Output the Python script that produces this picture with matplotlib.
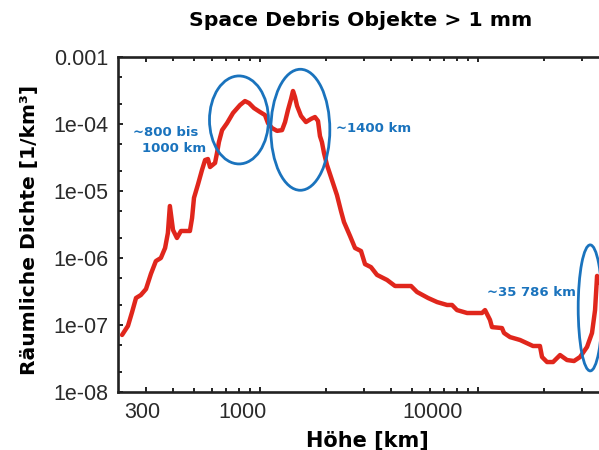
import numpy as np
import matplotlib
matplotlib.use("Agg")
import matplotlib.pyplot as plt
from matplotlib.patches import Ellipse
from matplotlib.transforms import ScaledTranslation
from matplotlib.ticker import LogLocator, NullFormatter, FixedLocator, FixedFormatter

# ---- data ----
altitude_km = [233, 248, 259, 270, 284, 300, 316, 333, 351, 367, 378, 386, 399, 416, 434,
               477, 488, 498, 520, 542, 560, 577, 590, 622, 635, 648, 670, 706, 752, 810,
               853, 891, 938, 1000, 1054, 1088, 1135, 1197, 1262, 1303, 1344, 1388, 1417,
               1447, 1479, 1542, 1625, 1713, 1787, 1845, 1884, 1923, 1966, 2029, 2138, 2254,
               2353, 2428, 2588, 2728, 2906, 3032, 3229, 3440, 3826, 4163, 4930, 5250, 5900,
               6490, 7210, 7600, 8010, 8910, 10430, 10770, 11350, 11590, 12880, 13160, 14020,
               15590, 17870, 19230, 19660, 20730, 22090, 23780, 25600, 27560, 29370, 31620,
               33330, 34420, 35160, 35930]
density = [7.1e-8, 9.7e-8, 1.56e-7, 2.53e-7, 2.8e-7, 3.44e-7, 5.8e-7, 9.0e-7, 1.0e-6, 1.41e-6,
           2.36e-6, 5.97e-6, 2.62e-6, 1.99e-6, 2.53e-6, 2.53e-6, 3.95e-6, 7.9e-6, 1.27e-5,
           2.06e-5, 2.9e-5, 3.0e-5, 2.28e-5, 2.62e-5, 3.69e-5, 5.38e-5, 8.1e-5, 1.03e-4,
           1.46e-4, 1.92e-4, 2.2e-4, 2.05e-4, 1.73e-4, 1.51e-4, 1.36e-4, 1.03e-4, 8.7e-5,
           7.9e-5, 8.1e-5, 1.07e-4, 1.62e-4, 2.36e-4, 3.11e-4, 2.53e-4, 1.86e-4, 1.32e-4,
           1.07e-4, 1.19e-4, 1.27e-4, 1.11e-4, 6.6e-5, 5.38e-5, 3.69e-5, 2.44e-5, 1.46e-5,
           8.7e-6, 5.0e-6, 3.44e-6, 2.13e-6, 1.41e-6, 1.27e-6, 8.1e-7, 7.3e-7, 5.6e-7, 4.7e-7,
           3.82e-7, 3.82e-7, 3.11e-7, 2.53e-7, 2.2e-7, 1.99e-7, 1.99e-7, 1.67e-7, 1.51e-7,
           1.51e-7, 1.67e-7, 1.19e-7, 9.3e-8, 9.0e-8, 7.6e-8, 6.6e-8, 5.97e-8, 4.86e-8,
           4.86e-8, 3.33e-8, 2.8e-8, 2.8e-8, 3.56e-8, 3.0e-8, 2.9e-8, 3.33e-8, 4.7e-8, 7.6e-8,
           1.67e-7, 5.4e-7, 4.3e-7]

x_tick_values = [300, 1000, 10000]
x_tick_labels = ["300", "1000", "10000"]
y_tick_values = [1e-8, 1e-7, 1e-6, 1e-5, 1e-4, 1e-3]
y_tick_labels = ["1e-08", "1e-07", "1e-06", "1e-05", "1e-04", "0.001"]

title = "Space Debris Objekte > 1 mm"
xlabel = "Höhe [km]"
ylabel = "Räumliche Dichte [1/km³]"

# annotations: (altitude, density, ellipse width in, height in)
ellipses = [(801, 1.15e-4, 0.59, 0.88),
            (1531, 8.2e-5, 0.59, 1.21),
            (32700, 1.8e-7, 0.24, 1.26)]

RED = "#e0261c"
BLUE = "#1a73bd"

fig = plt.figure(figsize=(5.99, 4.5), dpi=100)
ax = fig.add_axes([118 / 599, 58 / 450, 483 / 599, 335 / 450])

ax.plot(altitude_km, density, color=RED, lw=3.2, solid_joinstyle="round",
        solid_capstyle="round", zorder=3)

ax.set_xscale("log")
ax.set_yscale("log")
ax.set_xlim(223.2, 36650)
ax.set_ylim(1e-8, 1e-3)

# ticks
ax.xaxis.set_major_locator(FixedLocator(x_tick_values))
ax.xaxis.set_major_formatter(FixedFormatter(x_tick_labels))
ax.xaxis.set_minor_locator(LogLocator(base=10, subs=np.arange(2, 10), numticks=20))
ax.xaxis.set_minor_formatter(NullFormatter())
ax.yaxis.set_major_locator(FixedLocator(y_tick_values))
ax.yaxis.set_major_formatter(FixedFormatter(y_tick_labels))
ax.yaxis.set_minor_locator(LogLocator(base=10, subs=(2, 5), numticks=20))
ax.yaxis.set_minor_formatter(NullFormatter())

ax.tick_params(which="both", direction="in", top=True, right=False, width=1.4,
               color="#222222")
ax.tick_params(which="major", length=3.5)
ax.tick_params(which="minor", length=3.0)
ax.tick_params(axis="both", which="major", labelsize=15.5, labelcolor="#2a2a2a", pad=7)
for lab in ax.get_xticklabels() + ax.get_yticklabels():
    lab.set_fontfamily("Liberation Sans")

# label offsets as in reference
for lab, dx in zip(ax.get_xticklabels(), [-0.04, -0.17, -0.45]):
    lab.set_transform(lab.get_transform() + ScaledTranslation(dx, 0, fig.dpi_scale_trans))

for s in ["left", "bottom", "top"]:
    ax.spines[s].set_linewidth(1.9)
    ax.spines[s].set_color("#222222")
ax.spines["right"].set_visible(False)

fig.text(361 / 599, 1 - 20 / 450, title, ha="center", va="center",
         fontsize=14.7, fontweight="bold", family="DejaVu Sans")
fig.text(367 / 599, 1 - 440 / 450, xlabel, ha="center", va="center",
         fontsize=15, fontweight="bold", family="DejaVu Sans")
fig.text(30 / 599, 1 - 230 / 450, ylabel, ha="center", va="center", rotation=90,
         fontsize=14.6, fontweight="bold", family="DejaVu Sans")

for (xa, yd, w, h) in ellipses:
    e = Ellipse((0, 0), w, h, fill=False, edgecolor=BLUE, lw=2.0, clip_on=False,
                transform=fig.dpi_scale_trans + ScaledTranslation(xa, yd, ax.transData),
                zorder=4)
    ax.add_patch(e)

ax.text(133 / 599, 1 - 132 / 450, "~800 bis", transform=fig.transFigure, color=BLUE,
        fontsize=9.5, fontweight="bold", ha="left", va="center")
ax.text(142 / 599, 1 - 149 / 450, "1000 km", transform=fig.transFigure, color=BLUE,
        fontsize=9.5, fontweight="bold", ha="left", va="center")
ax.text(336 / 599, 1 - 128 / 450, "~1400 km", transform=fig.transFigure, color=BLUE,
        fontsize=9.5, fontweight="bold", ha="left", va="center")
ax.text(487 / 599, 1 - 292 / 450, "~35 786 km", transform=fig.transFigure, color=BLUE,
        fontsize=9.5, fontweight="bold", ha="left", va="center")

fig.savefig("out.png", dpi=100)
